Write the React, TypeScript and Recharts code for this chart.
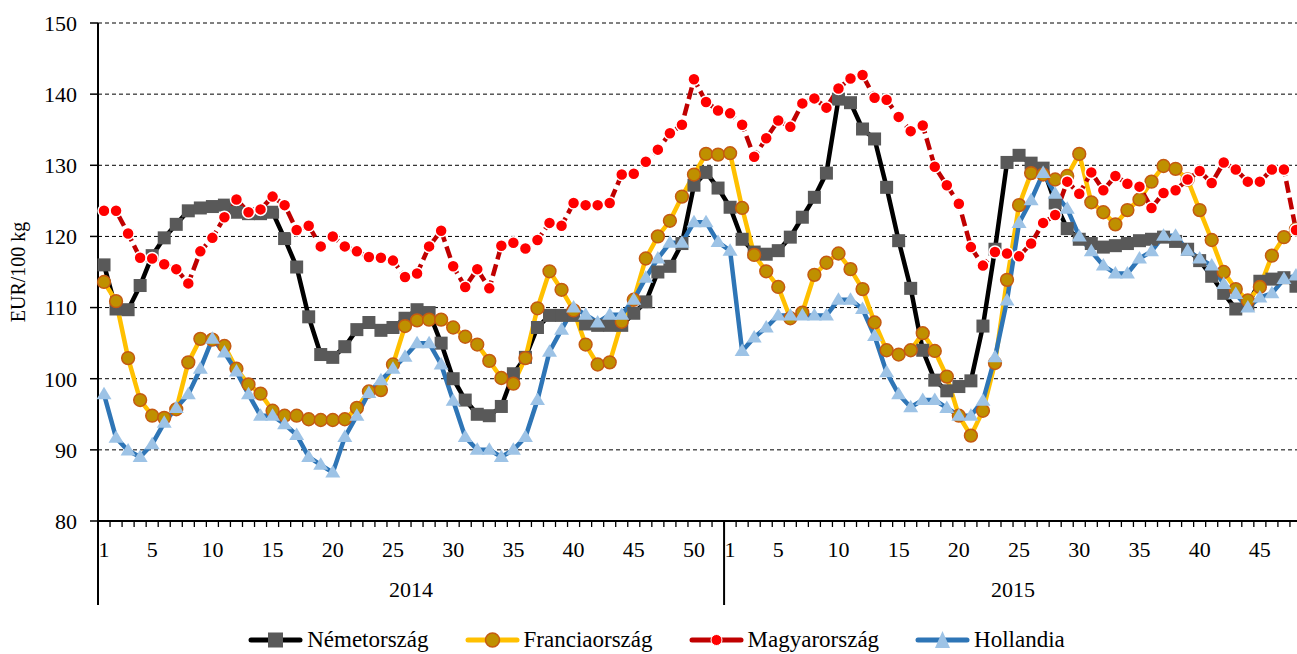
import React from "react"
import { LineChart, Line, XAxis, YAxis, CartesianGrid } from "recharts"

// weeks per year shown on the axis
const weeks2014 = Array.from({ length: 52 }, (_, i) => i + 1)
const weeks2015 = Array.from({ length: 48 }, (_, i) => i + 1)

const yTicks = [80, 90, 100, 110, 120, 130, 140, 150]

// EUR/100 kg
const nemet2014 = [
  116.0, 109.8, 109.7, 113.1, 117.3, 119.8, 121.7, 123.6, 124.0, 124.2,
  124.4, 123.4, 123.2, 123.2, 123.4, 119.7, 115.7, 108.7, 103.4, 103.0,
  104.5, 106.9, 107.9, 106.8, 107.2, 108.5, 109.7, 109.3, 105.0, 100.0,
  97.0, 95.0, 94.8, 96.1, 100.7, 103.0, 107.2, 108.9, 108.9, 108.9,
  107.7, 107.5, 107.5, 107.5, 109.2, 110.8, 115.0, 115.8, 119.0, 127.2,
  129.0, 126.8,
]
const nemet2015 = [
  124.1, 119.6, 117.8, 117.5, 118.0, 119.9, 122.7, 125.5, 128.9, 139.3,
  138.8, 135.1, 133.7, 126.9, 119.4, 112.7, 104.0, 99.8, 98.3, 98.9,
  99.7, 107.4, 118.2, 130.4, 131.4, 130.3, 129.6, 124.7, 121.1, 119.6,
  119.0, 118.5, 118.7, 119.0, 119.4, 119.6, 119.9, 119.3, 118.2, 116.6,
  114.4, 112.0, 109.8, 110.4, 113.7, 114.0, 114.2, 113.0,
]
const francia2014 = [
  113.6, 110.9, 102.9, 97.0, 94.8, 94.5, 95.7, 102.3, 105.6, 105.5,
  104.6, 101.4, 99.2, 97.9, 95.5, 94.8, 94.8, 94.3, 94.2, 94.2,
  94.3, 95.9, 98.2, 98.4, 102.0, 107.4, 108.2, 108.3, 108.3, 107.2,
  105.9, 104.8, 102.5, 100.1, 99.3, 102.9, 109.9, 115.1, 112.5, 109.6,
  104.8, 102.0, 102.3, 108.0, 111.1, 116.9, 120.0, 122.2, 125.6, 128.7,
  131.6, 131.5,
]
const francia2015 = [
  131.7, 124.0, 117.4, 115.1, 112.9, 108.5, 109.3, 114.6, 116.3, 117.6,
  115.4, 112.6, 107.9, 104.0, 103.4, 104.0, 106.4, 103.9, 100.3, 94.8,
  92.0, 95.5, 102.2, 113.9, 124.4, 128.9, 128.7, 128.0, 128.5, 131.6,
  124.8, 123.4, 121.7, 123.7, 125.2, 127.7, 129.9, 129.5, 128.0, 123.7,
  119.5, 115.0, 112.6, 111.0, 112.9, 117.3, 119.9, 121.0,
]
const magyar2014 = [
  123.6, 123.6, 120.4, 117.0, 116.9, 116.1, 115.4, 113.4, 117.9, 119.8,
  122.7, 125.2, 123.4, 123.8, 125.6, 124.4, 120.9, 121.5, 118.6, 120.0,
  118.6, 117.9, 117.1, 117.0, 116.6, 114.3, 114.8, 118.6, 120.8, 115.8,
  112.9, 115.4, 112.7, 118.7, 119.1, 118.3, 119.5, 121.9, 121.5, 124.7,
  124.4, 124.4, 124.7, 128.7, 128.8, 130.5, 132.2, 134.5, 135.7, 142.1,
  138.9, 137.7,
]
const magyar2015 = [
  137.3, 135.7, 131.2, 133.8, 136.3, 135.4, 138.7, 139.4, 138.1, 140.8,
  142.2, 142.7, 139.5, 139.2, 136.8, 134.8, 135.6, 129.8, 127.2, 124.6,
  118.5, 115.9, 117.8, 117.6, 117.2, 119.0, 121.9, 123.0, 127.7, 126.0,
  129.0, 126.5, 128.5, 127.4, 127.0, 124.0, 126.1, 126.5, 128.0, 129.2,
  127.5, 130.4, 129.4, 127.7, 127.7, 129.4, 129.4, 120.9,
]
const holland2014 = [
  97.8, 91.7, 89.9, 89.0, 90.8, 93.8, 95.9, 97.8, 101.4, 105.6,
  103.7, 101.0, 97.8, 94.8, 94.8, 93.6, 92.1, 89.0, 87.9, 86.8,
  91.8, 94.8, 98.0, 99.8, 101.4, 103.1, 105.0, 105.0, 102.0, 96.9,
  91.8, 90.0, 90.0, 89.0, 90.0, 91.8, 97.0, 103.8, 106.9, 110.0,
  109.0, 107.9, 109.0, 109.0, 111.1, 114.2, 116.9, 119.1, 119.1, 122.0,
  122.0, 119.2,
]
const holland2015 = [
  118.0, 103.9, 105.8, 107.2, 108.9, 108.9, 108.9, 108.9, 108.9, 111.1,
  111.1, 109.8, 106.0, 100.9, 97.8, 96.0, 97.0, 97.0, 95.9, 94.8,
  94.8, 96.9, 103.0, 111.0, 121.9, 125.1, 128.9, 126.0, 123.9, 120.0,
  117.9, 115.9, 114.8, 114.8, 116.9, 117.9, 120.1, 120.1, 118.0, 116.9,
  115.9, 113.3, 111.9, 110.0, 111.4, 112.0, 114.0, 114.5,
]

const rows = [
  ...weeks2014.map((w, i) => ({
    year: 2014, week: w,
    nemet: nemet2014[i], francia: francia2014[i], magyar: magyar2014[i], holland: holland2014[i],
  })),
  ...weeks2015.map((w, i) => ({
    year: 2015, week: w,
    nemet: nemet2015[i], francia: francia2015[i], magyar: magyar2015[i], holland: holland2015[i],
  })),
].map((r, idx) => ({ ...r, idx }))

const idxTicks = rows.map((r) => r.idx)

const W = 1302
const H = 615
const Y_AXIS_W = 98
const STEP = (W - Y_AXIS_W) / rows.length
const FONT = "'Times New Roman', 'Liberation Serif', serif"

const SquareDot = (p: any) => {
  const { cx, cy, index } = p
  if (cx == null || cy == null) return <g key={index} />
  return <rect key={index} x={cx - 6.5} y={cy - 6.5} width={13} height={13} fill="#595959" />
}
const GoldDot = (p: any) => {
  const { cx, cy, index } = p
  if (cx == null || cy == null) return <g key={index} />
  return <circle key={index} cx={cx} cy={cy} r={6.4} fill="#BF9000" stroke="#C55A11" strokeWidth={1.5} />
}
const RedDot = (p: any) => {
  const { cx, cy, index } = p
  if (cx == null || cy == null) return <g key={index} />
  return <circle key={index} cx={cx} cy={cy} r={6} fill="#FF0000" stroke="#fff" strokeWidth={1.5} />
}
const TriDot = (p: any) => {
  const { cx, cy, index } = p
  if (cx == null || cy == null) return <g key={index} />
  return (
    <path key={index} d={`M${cx},${cy - 7.5} L${cx + 7.5},${cy + 5} L${cx - 7.5},${cy + 5} Z`} fill="#9DC3E6" />
  )
}

const WeekTick = (p: any) => {
  const { x, y, payload } = p
  const row = rows[payload.value]
  if (!row) return <g />
  const left = x - STEP / 2
  const showLabel = row.week === 1 || row.week % 5 === 0
  return (
    <g>
      <line x1={left} x2={left} y1={y} y2={y + 6} stroke="#000" strokeWidth={1.3} />
      {row.week === 1 && (
        <line x1={left} x2={left} y1={y} y2={y + 84} stroke="#000" strokeWidth={2} />
      )}
      {showLabel && (
        <text x={x} y={y + 36} textAnchor="middle" fontSize={22} fontFamily={FONT} fill="#000">
          {row.week}
        </text>
      )}
      {(row.idx === 25 || row.idx === 75) && (
        <text x={x + STEP / 2} y={y + 76} textAnchor="middle" fontSize={22} fontFamily={FONT} fill="#000">
          {row.year}
        </text>
      )}
    </g>
  )
}

const YLabel = (p: any) => {
  const vb = p.viewBox || {}
  const cx = 18
  const cy = vb.y + vb.height / 2
  return (
    <text x={cx} y={cy} transform={`rotate(-90 ${cx} ${cy})`} textAnchor="middle" dominantBaseline="central"
      fontSize={20} fontFamily={FONT} fill="#000">
      EUR/100 kg
    </text>
  )
}

const legendItems = [
  { name: "Németország", line: "#000000", mark: "square" },
  { name: "Franciaország", line: "#FFC000", mark: "gold" },
  { name: "Magyarország", line: "#C00000", mark: "red" },
  { name: "Hollandia", line: "#2E75B6", mark: "tri" },
]

const LegendMark = ({ kind, color }: { kind: string; color: string }) => (
  <svg width={55} height={24} style={{ display: "block" }}>
    <line x1={3} x2={52} y1={12} y2={12} stroke={color} strokeWidth={5} strokeLinecap="round" />
    {kind === "square" && <rect x={20} y={4.5} width={15} height={15} fill="#595959" />}
    {kind === "gold" && <circle cx={27.5} cy={12} r={7} fill="#BF9000" stroke="#C55A11" strokeWidth={1.5} />}
    {kind === "red" && <circle cx={27.5} cy={12} r={5.5} fill="#FF0000" stroke="#fff" strokeWidth={1} />}
    {kind === "tri" && <path d="M27.5,3 L35,20 L20,20 Z" fill="#9DC3E6" />}
  </svg>
)

export default function App() {
  return (
    <div style={{ position: "fixed", left: 0, top: 0, width: 1297, height: 654, overflow: "hidden", background: "#fff", fontFamily: FONT }}>
      <LineChart width={W} height={H} data={rows} margin={{ top: 23, right: 0, bottom: 0, left: 0 }}>
        <CartesianGrid horizontal vertical={false} stroke="#000" strokeDasharray="4 3" strokeWidth={1} />
        <XAxis
          dataKey="idx"
          type="number"
          domain={[-0.5, rows.length - 0.5]}
          ticks={idxTicks}
          interval={0}
          height={H - 23 - 498}
          tickSize={0}
          tickMargin={0}
          tickLine={false}
          axisLine={{ stroke: "#000", strokeWidth: 2 }}
          tick={WeekTick}
        />
        <YAxis
          type="number"
          domain={[80, 150]}
          ticks={yTicks}
          interval={0}
          width={Y_AXIS_W}
          tickSize={8}
          tickMargin={13}
          axisLine={{ stroke: "#000", strokeWidth: 2 }}
          tickLine={{ stroke: "#000", strokeWidth: 1.5 }}
          tick={{ fill: "#000", fontSize: 22, fontFamily: FONT }}
          label={YLabel}
        />
        <Line dataKey="nemet" name="Németország" type="linear" stroke="#000" strokeWidth={4.5}
          dot={SquareDot} activeDot={false} isAnimationActive={false} />
        <Line dataKey="francia" name="Franciaország" type="linear" stroke="#FFC000" strokeWidth={4.5}
          dot={GoldDot} activeDot={false} isAnimationActive={false} />
        <Line dataKey="magyar" name="Magyarország" type="linear" stroke="#C00000" strokeWidth={4.5}
          strokeDasharray="12 5" dot={RedDot} activeDot={false} isAnimationActive={false} />
        <Line dataKey="holland" name="Hollandia" type="linear" stroke="#2E75B6" strokeWidth={4.5}
          dot={TriDot} activeDot={false} isAnimationActive={false} />
      </LineChart>
      <div style={{ position: "absolute", top: 628, left: 0, width: 1313, display: "flex", justifyContent: "center", gap: 36 }}>
        {legendItems.map((it) => (
          <div key={it.name} style={{ display: "flex", alignItems: "center", gap: 4 }}>
            <LegendMark kind={it.mark} color={it.line} />
            <span style={{ fontSize: 23, lineHeight: "24px", color: "#000" }}>{it.name}</span>
          </div>
        ))}
      </div>
    </div>
  )
}
